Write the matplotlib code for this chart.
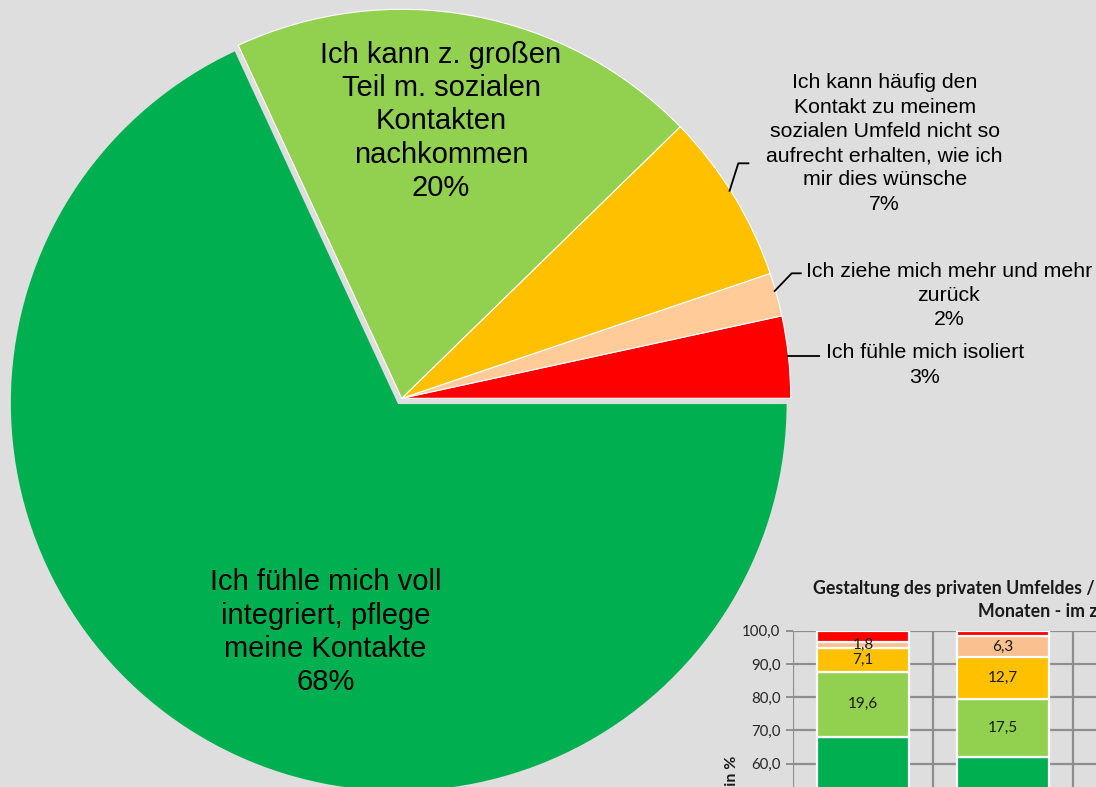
import matplotlib
matplotlib.use("Agg")
import matplotlib.pyplot as plt

# ---- data -------------------------------------------------------------
# Pie slices, counter-clockwise starting at 3 o'clock
categories = [
    "Ich fühle mich isoliert",
    "Ich ziehe mich mehr und mehr\nzurück",
    "Ich kann häufig den\nKontakt zu meinem\nsozialen Umfeld nicht so\naufrecht erhalten, wie ich\nmir dies wünsche",
    "Ich kann z. großen\nTeil m. sozialen\nKontakten\nnachkommen",
    "Ich fühle mich voll\nintegriert, pflege\nmeine Kontakte",
]
shares = [3.4, 1.8, 7.1, 19.6, 68.1]
pie_colors = ["#ff0000", "#ffcc99", "#ffc000", "#92d050", "#00b050"]

# Stacked comparison (bottom to top: voll integriert ... isoliert)
waves = ["Welle 1", "Welle 2"]
stack_names = ["voll integriert", "großer Teil", "häufig nicht", "Rückzug", "isoliert"]
stack_values = [
    [68.1, 61.9],   # voll integriert
    [19.6, 17.5],   # großer Teil
    [7.1, 12.7],    # häufig nicht
    [1.8, 6.3],     # Rückzug
    [3.4, 1.6],     # isoliert
]
stack_colors = ["#00b050", "#92d050", "#ffc000", "#fac090", "#ff0000"]
stack_labelled = [True, True, True, True, False]
y_ticks = [0, 10, 20, 30, 40, 50, 60, 70, 80, 90, 100]

# ---- figure -------------------------------------------------------------
W, H = 1096, 787
BG = "#dedede"
fig = plt.figure(figsize=(W / 100, H / 100), dpi=100, facecolor=BG)
ax = fig.add_axes([0, 0, 1, 1])
ax.set_facecolor(BG)


def yy(y):
    """Convert a top-down pixel row into the axes' bottom-up units."""
    return H - y


# the largest slice is pulled slightly out of the pie (offset in px)
wedges, _ = ax.pie(
    shares,
    colors=pie_colors,
    startangle=0,
    counterclock=True,
    radius=389,
    center=(401.7, yy(398.3)),
    explode=[0, 0, 0, 0, 5.5],
    wedgeprops=dict(edgecolor="white", linewidth=0.8),
)
wedges[-1].set_edgecolor(BG)
wedges[-1].set_linewidth(1.6)
ax.set_xlim(0, W)
ax.set_ylim(0, H)
ax.set_aspect("auto")
ax.axis("off")

big = dict(family="Liberation Sans", fontsize=21, color="black",
           ha="center", va="top", linespacing=1.24)
small = dict(family="Liberation Sans", fontsize=15.3, color="black",
             ha="center", va="top", linespacing=1.35)


def pct(v):
    return f"{round(v)}%"


ax.text(325.5, yy(568.3), f"{categories[4]}\n{pct(shares[4])}", **big)
ax.text(441, yy(40.7), f"{categories[3]}\n{pct(shares[3])}", **big)
ax.text(884.7, yy(73.3), f"{categories[2]}\n{pct(shares[2])}", **small)
ax.text(949, yy(261.7), f"{categories[1]}\n{pct(shares[1])}", **small)
ax.text(925, yy(343.3), f"{categories[0]}\n{pct(shares[0])}", **small)

# leader lines
lk = dict(color="black", linewidth=1.3, solid_capstyle="butt")
ax.plot([729.3, 738.3, 749.3], [yy(191.7), yy(163.3), yy(163.3)], **lk)
ax.plot([774, 791.7, 801.7], [yy(291.7), yy(273.3), yy(273.3)], **lk)
ax.plot([787.3, 820], [yy(355.7), yy(355.7)], **lk)

# ---- stacked comparison chart -----------------------------------------
top_px, zero_px, left_px, cat_px = 630.7, 962.7, 793.0, 140.0
n_slots = 4
bx = fig.add_axes([left_px / W, (H - zero_px) / H,
                   n_slots * cat_px / W, (zero_px - top_px) / H])
bx.set_facecolor("none")
bx.set_xlim(-0.5, n_slots - 0.5)
bx.set_ylim(0, 100)

GRID = "#8e8e8e"
bx.set_yticks(y_ticks)
bx.set_yticklabels([f"{t:.1f}".replace(".", ",") for t in y_ticks],
                   family="Lato", fontsize=10.8, color="#262626")
bx.set_xticks(range(len(waves)))
bx.set_xticklabels(waves, family="Lato", fontsize=10.8, color="#262626")
bx.set_xticks([i - 0.5 for i in range(n_slots + 1)], minor=True)
bx.tick_params(axis="y", length=5, width=1.4, color=GRID, pad=4)
bx.tick_params(axis="x", which="both", length=0)
bx.grid(axis="y", which="major", color=GRID, linewidth=1.6)
bx.grid(axis="x", which="minor", color=GRID, linewidth=1.6)
for s in bx.spines.values():
    s.set_visible(False)
bx.set_axisbelow(True)

xs = list(range(len(waves)))
bottoms = [0.0] * len(waves)
for vals, col, lab in zip(stack_values, stack_colors, stack_labelled):
    bx.bar(xs, vals, bottom=bottoms, width=0.662, color=col,
           edgecolor="white", linewidth=1.6)
    if lab:
        for x, b, v in zip(xs, bottoms, vals):
            bx.text(x, b + v / 2, f"{v:.1f}".replace(".", ","),
                    ha="center", va="center", family="Lato",
                    fontsize=11, color="#1a1a1a")
    bottoms = [b + v for b, v in zip(bottoms, vals)]

# title and axis caption of the comparison chart
tk = dict(family="Lato", fontweight="bold", fontsize=12.8, color="#1a1a1a",
          ha="left", va="baseline")
ax.text(813, yy(594.3),
        "Gestaltung des privaten Umfeldes / sozialer Kontakte in den letzten 12", **tk)
ax.text(978, yy(616.7), "Monaten - im zeitlichen Vergleich", **tk)
ax.text(732, yy(755.5), "Angaben in %", rotation=90, ha="center", va="top",
        family="Lato", fontweight="bold", fontsize=11.5, color="#1a1a1a")

fig.savefig("out.png", dpi=100, facecolor=BG)
